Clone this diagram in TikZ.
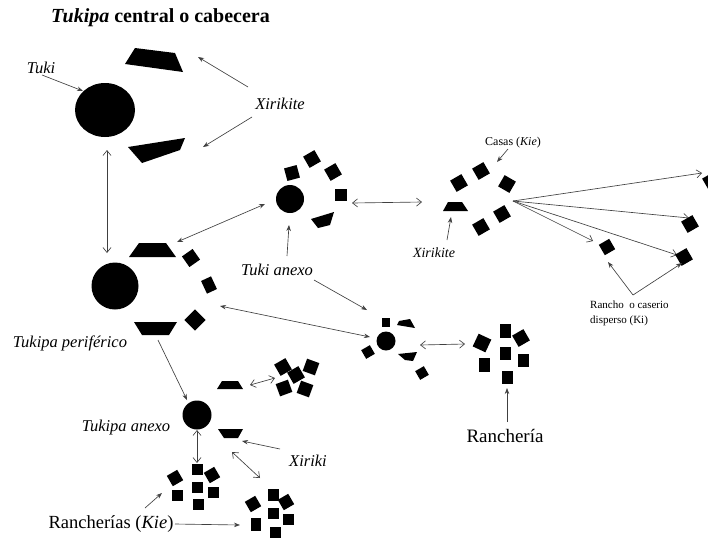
\documentclass[tikz,border=0pt]{standalone}
\usepackage{fontspec}
\setmainfont{Liberation Serif}
\usetikzlibrary{arrows.meta,shapes.geometric}
\begin{document}
\begin{tikzpicture}[x=1pt,y=-1pt,
 lbl/.style={font=\fontsize{16.5}{19}\selectfont\itshape, inner sep=0pt},
 small/.style={font=\fontsize{11}{15}\selectfont, inner sep=0pt},
 ptr/.style={draw=black!75, line width=0.65pt, -{Stealth[length=6pt,width=4.5pt]}},
 opn/.style={draw=black!75, line width=0.65pt, -{Straight Barb[length=5pt,width=8pt]}},
 dbl/.style={draw=black!75, line width=0.65pt, {Straight Barb[length=5pt,width=8pt]}-{Straight Barb[length=5pt,width=8pt]}},
 sq/.style={fill=black, inner sep=0pt, minimum size=12pt, draw=none},
 blob/.style={fill=black, circle, inner sep=0pt, draw=none}
]
\useasboundingbox (0,0) rectangle (708,539);

% title
\node[anchor=west, inner sep=0pt, font=\fontsize{20}{24}\selectfont\bfseries] (title) at (51,18) {\textit{Tukipa} central o cabecera};

% ---------- Tukipa central
\node[fill=black, ellipse, inner sep=0pt, minimum width=60pt, minimum height=54pt] (tuki) at (105,110) {};
\fill (135,48) -- (175,53) -- (183,72) -- (125,64) -- cycle;
\fill (128,147) -- (185,138) -- (180,150) -- (142,163) -- cycle;
\node[lbl] (ltuki) at (41,68) {Tuki};
\node[lbl] (lxir) at (280,104) {Xirikite};
\coordinate (xa1) at (248,87); \coordinate (xb1) at (198,57);
\coordinate (xa2) at (252,117); \coordinate (xb2) at (203,147);
\coordinate (ta) at (42,75); \coordinate (tb) at (83,91);
\draw[ptr] (ta) -- (tb);
\draw[ptr] (xa1) -- (xb1);
\draw[ptr] (xa2) -- (xb2);
\coordinate (v1) at (107,150); \coordinate (v2) at (107,253);
\draw[dbl] (v1) -- (v2);

% ---------- Tuki anexo (upper)
\node[blob, minimum size=28pt] (anx) at (290,199) {};
\node[sq, minimum size=13pt, rotate=15] (a1) at (292,173) {};
\node[sq, minimum size=13pt, rotate=30] (a2) at (312,159) {};
\node[sq, minimum size=13pt, rotate=30] (a3) at (333,172) {};
\node[sq, minimum size=12pt] (a4) at (341,195) {};
\fill (311,219) -- (334,212) -- (330,225) -- (318,228) -- cycle;
\coordinate (h1) at (352,203); \coordinate (h2) at (422,202);
\draw[dbl] (h1) -- (h2);
\node[lbl] (lanx) at (277,270) {Tuki anexo};
\coordinate (la1) at (287,256); \coordinate (la2) at (289,225);
\draw[ptr] (la1) -- (la2);
\coordinate (lb1) at (314,280); \coordinate (lb2) at (367,310);
\draw[ptr] (lb1) -- (lb2);

% ---------- Tukipa periferico
\node[blob, minimum size=47pt] (per) at (115,286) {};
\fill (139,243) -- (166,243) -- (176,257) -- (129,257) -- cycle;
\fill (134,322) -- (177,322) -- (169,335) -- (142,335) -- cycle;
\node[sq, minimum size=13pt, rotate=35] (p1) at (191,258) {};
\node[sq, minimum width=11pt, minimum height=14pt, rotate=25] (p2) at (209,285) {};
\node[sq, minimum size=15pt, rotate=45] (p3) at (195,320) {};
\node[lbl] (lper) at (70,343) {Tukipa periférico};
\coordinate (d1) at (177,242); \coordinate (d2) at (265,204);
\draw[ptr, {Stealth[length=6pt,width=4.5pt]}-{Stealth[length=6pt,width=4.5pt]}] (d1) -- (d2);
\coordinate (e1) at (220,306); \coordinate (e2) at (370,337);
\draw[ptr, {Stealth[length=6pt,width=4.5pt]}-{Stealth[length=6pt,width=4.5pt]}] (e1) -- (e2);
\coordinate (f1) at (158,340); \coordinate (f2) at (187,400);
\draw[ptr] (f1) -- (f2);

% ---------- second small group
\node[blob, minimum size=19pt] (sg) at (386,341) {};
\node[sq, minimum width=8pt, minimum height=9pt] (g1) at (386,322) {};
\fill (399,321) -- (410,319) -- (415,328) -- (397,325) -- cycle;
\node[sq, minimum size=10pt, rotate=30] (g2) at (368,352) {};
\fill (398,354) -- (417,352) -- (413,361) -- (405,360) -- cycle;
\node[sq, minimum size=10pt, rotate=30] (g3) at (422,373) {};
\coordinate (k1) at (420,345); \coordinate (k2) at (465,344);
\draw[dbl] (k1) -- (k2);

% ---------- Rancheria
\node[sq, minimum size=14pt, rotate=-25] (r1) at (482,343) {};
\node[sq, minimum width=11pt, minimum height=14pt] (r2) at (505,331) {};
\node[sq, minimum size=13pt, rotate=30] (r3) at (521,338) {};
\node[sq, minimum width=11pt, minimum height=13pt] (r4) at (505,353) {};
\node[sq, minimum width=11pt, minimum height=14pt] (r5) at (484,365) {};
\node[sq, minimum width=11pt, minimum height=13pt] (r6) at (523,360) {};
\node[sq, minimum width=11pt, minimum height=13pt] (r7) at (507,377) {};
\node[inner sep=0pt, font=\fontsize{19}{22}\selectfont] (lran) at (505,436) {Ranchería};
\coordinate (m1) at (507,422); \coordinate (m2) at (507,388);
\draw[ptr] (m1) -- (m2);

% ---------- Casas group
\node[small, font=\fontsize{12}{14}\selectfont] (lcas) at (513,143) {Casas (\textit{Kie})};
\coordinate (c1) at (508,149); \coordinate (c2) at (497,162);
\draw[ptr] (c1) -- (c2);
\node[sq, minimum size=13pt, rotate=30] (k1s) at (481,171) {};
\node[sq, minimum size=13pt, rotate=30] (k2s) at (459,183) {};
\node[sq, minimum size=13pt, rotate=-30] (k3s) at (507,184) {};
\node[sq, minimum size=13pt, rotate=30] (k4s) at (502,214) {};
\node[sq, minimum size=13pt, rotate=30] (k5s) at (481,227) {};
\fill (448,202) -- (462,202) -- (468,211) -- (443,211) -- cycle;
\node[lbl, font=\fontsize{14}{16}\selectfont\itshape] (lxir2) at (434,253) {Xirikite};
\coordinate (n1) at (447,240); \coordinate (n2) at (451,217);
\draw[ptr] (n1) -- (n2);
\coordinate (fan) at (513,201);
\coordinate (fa) at (702,173); \coordinate (fb) at (689,218);
\coordinate (fc) at (677,255); \coordinate (fd) at (593,241);
\draw[opn] (fan) -- (fa);
\draw[opn] (fan) -- (fb);
\draw[opn] (fan) -- (fc);
\draw[opn] (fan) -- (fd);
\node[sq, minimum size=12pt, rotate=30] (q1) at (607,247) {};
\node[sq, minimum size=13pt, rotate=30] (q2) at (690,224) {};
\node[sq, minimum size=13pt, rotate=30] (q3) at (684,257) {};
\node[sq, minimum size=13pt, rotate=30] (q4) at (711,181) {};
\node[small, align=left, anchor=north west] (lrancho) at (590,301) {Rancho\ \ o caserio\\disperso\ (Ki)};
\coordinate (o1) at (633,295); \coordinate (o2) at (608,262); \coordinate (o3) at (682,263);
\draw[ptr] (o1) -- (o2);
\draw[ptr] (o1) -- (o3);

% ---------- Tukipa anexo
\node[blob, minimum size=29pt] (tan) at (197,415) {};
\fill (222,381) -- (238,381) -- (243,389) -- (217,389) -- cycle;
\fill (218,429) -- (243,429) -- (238,438) -- (224,438) -- cycle;
\node[lbl] (ltan) at (126,428) {Tukipa anexo};
\node[lbl] (lxiriki) at (308,461) {Xiriki};
\coordinate (x1) at (280,449); \coordinate (x2) at (242,441);
\draw[ptr] (x1) -- (x2);
\node[sq, minimum size=13pt, rotate=30] (u1) at (283,367) {};
\node[sq, minimum size=13pt, rotate=30] (u2) at (296,375) {};
\node[sq, minimum size=13pt, rotate=-20] (u3) at (311,367) {};
\node[sq, minimum size=13pt, rotate=20] (u4) at (284,388) {};
\node[sq, minimum size=13pt, rotate=-20] (u5) at (305,389) {};
\coordinate (w1) at (250,385); \coordinate (w2) at (275,378);
\draw[dbl] (w1) -- (w2);
\coordinate (y1) at (197,430); \coordinate (y2) at (197,463);
\draw[dbl] (y1) -- (y2);
\coordinate (z1) at (232,452); \coordinate (z2) at (260,478);
\draw[dbl] (z1) -- (z2);

% ---------- Rancherias (Kie)
\node[sq, minimum size=12pt, rotate=30] (b1) at (175,478) {};
\node[sq, minimum size=11pt] (b2) at (197,469) {};
\node[sq, minimum size=12pt, rotate=30] (b3) at (212,475) {};
\node[sq, minimum size=11pt] (b4) at (197,487) {};
\node[sq, minimum size=11pt] (b5) at (177,495) {};
\node[sq, minimum size=11pt] (b6) at (213,492) {};
\node[sq, minimum size=11pt] (b7) at (198,504) {};
\node[sq, minimum size=12pt, rotate=30] (t1) at (253,504) {};
\node[sq, minimum width=11pt, minimum height=12pt] (t2) at (273,495) {};
\node[sq, minimum size=12pt, rotate=30] (t3) at (286,502) {};
\node[sq, minimum size=11pt] (t4) at (273,513) {};
\node[sq, minimum width=10pt, minimum height=13pt] (t5) at (256,524) {};
\node[sq, minimum size=11pt] (t6) at (288,519) {};
\node[sq, minimum size=11pt] (t7) at (275,532) {};
\node[inner sep=0pt, font=\fontsize{18.5}{22}\selectfont] (lkie) at (111,524) {Rancherías (\textit{Kie})};
\coordinate (j1) at (145,508); \coordinate (j2) at (162,493);
\draw[ptr] (j1) -- (j2);
\coordinate (i1) at (175,524); \coordinate (i2) at (240,525);
\draw[ptr] (i1) -- (i2);
\end{tikzpicture}
\end{document}
